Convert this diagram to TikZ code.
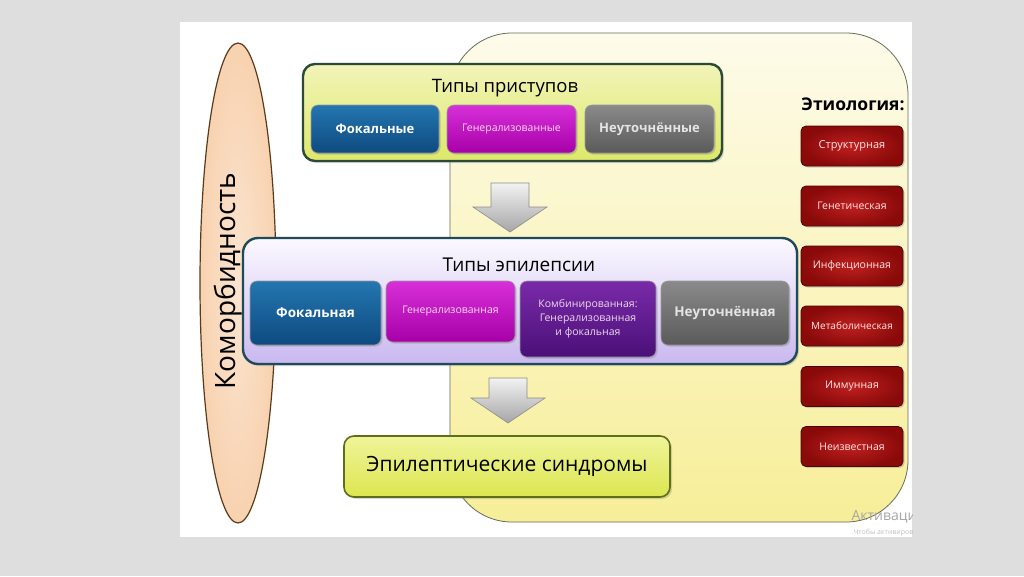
\documentclass[tikz,border=0pt]{standalone}
\usepackage{fontspec}
\setmainfont{Open Sans}
\newfontfamily\titlefont{Open Sans}
\usetikzlibrary{shapes.geometric,shadows}
\definecolor{bgGray}{HTML}{DEDEDE}
\definecolor{panelTop}{HTML}{FDFBEA}
\definecolor{panelBot}{HTML}{F7EE98}
\definecolor{panelLine}{HTML}{6A6A5A}
\definecolor{peach}{HTML}{F8D2B0}
\definecolor{peachLine}{HTML}{5A3A1A}
\definecolor{greenTop}{HTML}{F2F4B8}
\definecolor{greenBot}{HTML}{DDE86A}
\definecolor{greenLine}{HTML}{2C4A3A}
\definecolor{lavTop}{HTML}{FBF9FF}
\definecolor{lavBot}{HTML}{C9B8F0}
\definecolor{tealLine}{HTML}{1E4A5A}
\definecolor{blueA}{HTML}{2476B0}
\definecolor{blueB}{HTML}{0E4A80}
\definecolor{magA}{HTML}{D830D8}
\definecolor{magB}{HTML}{A800A8}
\definecolor{purA}{HTML}{7A2AA8}
\definecolor{purB}{HTML}{4A1078}
\definecolor{grayA}{HTML}{8A8A8A}
\definecolor{grayB}{HTML}{5A5A5A}
\definecolor{redA}{HTML}{C02020}
\definecolor{redB}{HTML}{8A0A0A}
\definecolor{redLine}{HTML}{4A0505}
\definecolor{synTop}{HTML}{F0F49A}
\definecolor{synBot}{HTML}{DCE650}
\definecolor{synLine}{HTML}{5E6E1A}
\tikzset{
  subbox/.style={rounded corners=7pt, draw=black!40, line width=0.6pt,
    text=white, align=center, inner sep=2pt,
    drop shadow={opacity=0.35, shadow xshift=1.5pt, shadow yshift=-1.5pt}},
  redbox/.style={rounded corners=5pt, draw=redLine, line width=0.8pt,
    inner color=redA, outer color=redB, text=red!10!white,
    minimum width=102pt, minimum height=40pt, font=\fontsize{10.5}{12}\selectfont,
    drop shadow={opacity=0.35, shadow xshift=1.5pt, shadow yshift=-1.5pt}},
  arrowshape/.style={draw=black!45, line width=0.6pt, top color=white!95!black, bottom color=black!35},
}
\begin{document}
\begin{tikzpicture}[x=1pt,y=-1pt]
\useasboundingbox (0,0) rectangle (1024,576);
\fill[bgGray] (0,0) rectangle (1024,576);
\fill[white] (180,22) rectangle (912,537);
% big yellow panel
\draw[panelLine, line width=0.8pt, top color=panelTop, bottom color=panelBot, rounded corners=62pt]
  (450,33) rectangle (908,522);
% comorbidity ellipse
\node[ellipse, draw=peachLine, line width=1.2pt, inner color=peach!60!white, outer color=peach,
  minimum width=76pt, minimum height=480pt, inner sep=0pt] (comorb) at (238,283) {};
\node[rotate=90, font=\titlefont\fontsize{28}{30}\selectfont] (comorbtext) at (228,281) {Коморбидность};
% seizure types
\node[rounded corners=12pt, draw=greenLine, line width=2.4pt, top color=greenTop, bottom color=greenBot,
  minimum width=419pt, minimum height=97pt,
  drop shadow={opacity=0.3, shadow xshift=2pt, shadow yshift=-2pt}] (seiz) at (512.5,112.5) {};
\node[font=\titlefont\fontsize{18.5}{20}\selectfont] (seiztitle) at (505,88) {Типы приступов};
\node[subbox, top color=blueA, bottom color=blueB, minimum width=128pt, minimum height=48pt,
  font=\fontsize{13}{16}\selectfont\bfseries] (s1) at (375,129) {Фокальные};
\node[subbox, top color=magA, bottom color=magB, minimum width=129pt, minimum height=48pt,
  font=\fontsize{10.5}{12}\selectfont, text=white!85!magenta] (s2) at (511.5,129) {Генерализованные};
\node[subbox, top color=grayA, bottom color=grayB, minimum width=129pt, minimum height=48pt,
  font=\fontsize{13}{16}\selectfont\bfseries, text=white!90!black] (s3) at (649.5,129) {Неуточнённые};
% epilepsy types
\node[rounded corners=15pt, draw=tealLine, line width=2.4pt, top color=lavTop, bottom color=lavBot,
  minimum width=554pt, minimum height=126pt,
  drop shadow={opacity=0.3, shadow xshift=2pt, shadow yshift=-2pt}] (epi) at (520,301) {};
\node[font=\titlefont\fontsize{19}{20}\selectfont] (epititle) at (519,265) {Типы эпилепсии};
\node[subbox, top color=blueA, bottom color=blueB, minimum width=131pt, minimum height=64pt,
  font=\fontsize{13.5}{16}\selectfont\bfseries] (e1) at (315.5,313) {Фокальная};
\node[subbox, top color=magA, bottom color=magB, minimum width=129pt, minimum height=61pt,
  font=\fontsize{10.5}{13}\selectfont, text=white!85!magenta] (e2) at (450.5,311.5) {Генерализованная};
\node[subbox, top color=purA, bottom color=purB, minimum width=136pt, minimum height=76pt,
  font=\fontsize{10.5}{14}\selectfont, text=white!85!violet] (e3) at (588,319) {Комбинированная:\\Генерализованная\\и фокальная};
\node[subbox, top color=grayA, bottom color=grayB, minimum width=128pt, minimum height=64pt,
  font=\fontsize{13.5}{16}\selectfont\bfseries, text=white!90!black] (e4) at (725,313) {Неуточнённая};
% syndromes
\node[rounded corners=10pt, draw=synLine, line width=1.6pt, top color=synTop, bottom color=synBot,
  minimum width=326pt, minimum height=61pt, font=\titlefont\fontsize{21}{24}\selectfont,
  drop shadow={opacity=0.3, shadow xshift=2pt, shadow yshift=-2pt}] (syn) at (507,466.5) {Эпилептические синдромы};
% arrows
\coordinate (a1) at (510,183);
\draw[arrowshape] (a1) ++(-19,0) -- ++(38,0) -- ++(0,24) -- ++(18,0) -- (510,232) -- (473,207) -- ++(18,0) -- cycle;
\coordinate (a2) at (508,378);
\draw[arrowshape] (a2) ++(-19,0) -- ++(38,0) -- ++(0,20) -- ++(18,0) -- (508,423) -- (471,398) -- ++(18,0) -- cycle;
% etiology
\node[font=\fontsize{17.5}{20}\selectfont\bfseries] (etio) at (853,104) {Этиология:};
\node[redbox, font=\fontsize{11}{13}\selectfont] (r1) at (852,146) {Структурная};
\node[redbox] (r2) at (852,206) {Генетическая};
\node[redbox] (r3) at (852,266) {Инфекционная};
\node[redbox, font=\fontsize{10}{11}\selectfont] (r4) at (852,326) {Метаболическая};
\node[redbox] (r5) at (852,386.5) {Иммунная};
\node[redbox] (r6) at (852,446.5) {Неизвестная};
% watermark
\begin{scope}
\clip (180,22) rectangle (912,537);
\node[anchor=west, text=black!35, font=\titlefont\fontsize{14}{14}\selectfont] (wm1) at (848,517) {Активация};
\node[anchor=west, text=black!25, font=\titlefont\fontsize{7}{8}\selectfont] (wm2) at (850,533) {Чтобы активировать};
\end{scope}
\end{tikzpicture}
\end{document}
